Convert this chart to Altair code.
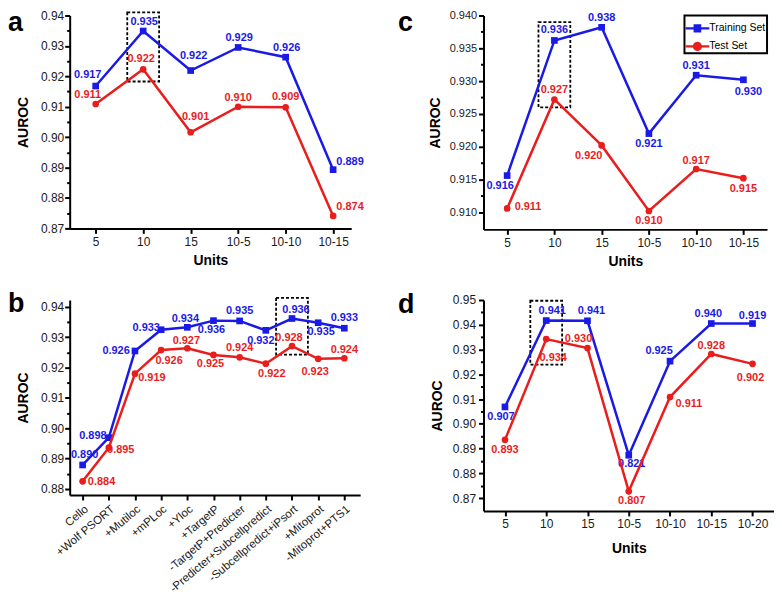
import altair as alt
import pandas as pd

SERIES = ["Training Set", "Test Set"]
BLUE = "#1a1ae6"
RED = "#ea1d1d"

# ---------------- data ----------------
a_units = ["5", "10", "15", "10-5", "10-10", "10-15"]
a_train = [0.9168, 0.9349, 0.9219, 0.9295, 0.9263, 0.8893]
a_test = [0.9109, 0.9223, 0.9016, 0.9100, 0.9098, 0.8741]
a_train_text = ["0.917", "0.935", "0.922", "0.929", "0.926", "0.889"]
a_test_text = ["0.911", "0.922", "0.901", "0.910", "0.909", "0.874"]

b_steps = ["Cello", "+Wolf PSORT", "+Mutiloc", "+mPLoc", "+Yloc", "+TargetP",
           "-TargetP+Predicter", "-Predicter+Subcellpredict",
           "-Subcellpredict+iPsort", "+Mitoprot", "-Mitoprot+PTS1"]
b_train = [0.8879, 0.8969, 0.9255, 0.9325, 0.9333, 0.9355, 0.9354, 0.9323, 0.9362, 0.9348, 0.9330]
b_test = [0.8825, 0.8936, 0.9180, 0.9258, 0.9264, 0.9242, 0.9234, 0.9213, 0.9271, 0.9229, 0.9231]
b_train_text = ["0.890", "0.898", "0.926", "0.933", "0.934", "0.936", "0.935", "0.932", "0.936", "0.935", "0.933"]
b_test_text = ["0.884", "0.895", "0.919", "0.926", "0.927", "0.925", "0.924", "0.922", "0.928", "0.923", "0.924"]

c_units = ["5", "10", "15", "10-5", "10-10", "10-15"]
c_train = [0.9156, 0.9362, 0.9382, 0.9220, 0.9309, 0.9302]
c_test = [0.9106, 0.9272, 0.9202, 0.9102, 0.9166, 0.9152]
c_train_text = ["0.916", "0.936", "0.938", "0.921", "0.931", "0.930"]
c_test_text = ["0.911", "0.927", "0.920", "0.910", "0.917", "0.915"]

d_units = ["5", "10", "15", "10-5", "10-10", "10-15", "10-20"]
d_train = [0.9068, 0.9417, 0.9416, 0.8873, 0.9253, 0.9405, 0.9405]
d_test = [0.8935, 0.9342, 0.9306, 0.8727, 0.9108, 0.9282, 0.9242]
d_train_text = ["0.907", "0.941", "0.941", "0.821", "0.925", "0.940", "0.919"]
d_test_text = ["0.893", "0.934", "0.930", "0.807", "0.911", "0.928", "0.902"]

# highlighted configuration (dashed box): category, lower, upper AUROC
a_box = ("10", 0.9183, 0.9410)
b_box = ("-Subcellpredict+iPsort", 0.9243, 0.9430)
c_box = ("10", 0.9260, 0.9390)
d_box = ("10", 0.9239, 0.9497)

# ---------------- layout (pixel offsets of value labels) ----------------
a_train_off = [(-8, -11), (1, -9), (3, -15), (1, -9), (1, -9), (17, -8)]
a_test_off = [(-8, -9), (-2, -10), (5, -15), (0, -9), (0, -10), (17, -9)]
b_train_off = [(2, -10), (-16, -2), (-19, 0), (-15, -2), (-2, -8), (-2, 9),
               (0, -10), (-5, 11), (4, -9), (3, 9), (0, -10)]
b_test_off = [(19, 1), (12, 2), (17, 4), (8, 11), (-1, -7), (-3, 9),
              (0, -9), (6, 10), (-3, -8), (-3, 13), (0, -8)]
c_train_off = [(-7, 10), (0, -10), (0, -9), (0, 10), (0, -9), (5, 12)]
c_test_off = [(21, -1), (0, -10), (-13, 11), (0, 10), (0, -8), (0, 11)]
d_train_off = [(-4, 10), (6, -10), (4, -10), (3, 9), (-11, -10), (-3, -10), (0, -8)]
d_test_off = [(0, 10), (7, 19), (-9, -9), (3, 10), (19, 7), (0, -8), (-2, 14)]

FONT = "Liberation Sans"

SQ_PATH = "M-1,-0.09H-0.32V-0.34H0.32V-0.09H1V0.09H0.32V0.34H-0.32V0.09H-1Z"
CI_PATH = ("M-1,-0.09H-0.37A0.38,0.38 0 0 1 0.37,-0.09H1V0.09H0.37"
           "A0.38,0.38 0 0 1 -0.37,0.09H-1Z")


def panel(cats, train, test, ttxt, vtxt, toff, voff, box, domain, major, minor, fmt,
          width, height, pad, align, letter, letter_xy, xtitle, label_angle,
          xlabel_size, ylabel_size, ytitle_pad, xtitle_pad, ylabel_pad, legend=False):
    span = domain[1] - domain[0]
    rows = []
    for series, vals, txts, offs in ((SERIES[0], train, ttxt, toff), (SERIES[1], test, vtxt, voff)):
        for i, (c, v, t, (dx, dy)) in enumerate(zip(cats, vals, txts, offs)):
            rows.append(dict(cat=c, idx=i, series=series, value=v, label=t,
                             dx=dx, ly=v - dy * span / height))
    df = pd.DataFrame(rows)
    yscale = alt.Scale(domain=list(domain), zero=False, nice=False)

    xaxis_kw = dict(labelAngle=label_angle, labelFontSize=xlabel_size, tickSize=5,
                    labelPadding=3, grid=False, titleFontSize=14, titleFontWeight="bold",
                    titlePadding=xtitle_pad)
    xaxis_kw["title"] = xtitle if xtitle else None
    xenc = alt.X("cat:N", sort=cats,
                 scale=alt.Scale(type="point", padding=pad, align=align),
                 axis=alt.Axis(**xaxis_kw))

    major_axis = alt.Axis(values=major, format=fmt, title="AUROC", titleFontSize=14,
                          titleFontWeight="bold", labelFontSize=ylabel_size, tickSize=5,
                          labelPadding=ylabel_pad, titlePadding=ytitle_pad, grid=False,
                          orient="left")
    minor_axis = alt.Axis(values=minor, labels=False, domain=False, tickSize=3,
                          title=None, grid=False, orient="left")

    boxdf = pd.DataFrame({"cat": [box[0]], "lo": [box[1]], "hi": [box[2]]})
    layers = [
        alt.Chart(boxdf).mark_bar(width=32, fillOpacity=0, stroke="black",
                                  strokeWidth=1.8, strokeDash=[3, 2]).encode(
            x=xenc, y=alt.Y("lo:Q", scale=yscale, axis=None), y2="hi:Q")
    ]
    for series, color, shape, ax in ((SERIES[0], BLUE, "square", major_axis),
                                     (SERIES[1], RED, "circle", minor_axis)):
        base = alt.Chart(df).transform_filter(alt.datum.series == series)
        layers.append(base.mark_line(color=color, strokeWidth=2.5).encode(
            x=xenc, y=alt.Y("value:Q", scale=yscale, axis=ax), order="idx:Q"))
        layers.append(base.mark_point(shape=shape, filled=True, size=45, color=color,
                                      opacity=1).encode(
            x=xenc, y=alt.Y("value:Q", scale=yscale, axis=None)))
        layers.append(base.mark_text(fontSize=11, fontWeight="bold", color=color,
                                     font=FONT).encode(
            x=xenc, xOffset=alt.XOffset("dx:Q", scale=None),
            y=alt.Y("ly:Q", scale=yscale, axis=None), text="label:N"))

    layers.append(alt.Chart(pd.DataFrame({"t": [letter]})).mark_text(
        align="left", baseline="alphabetic", fontSize=27, fontWeight="bold",
        font=FONT, color="black").encode(
        x=alt.value(letter_xy[0]), y=alt.value(letter_xy[1]), text="t:N"))

    if legend:
        leg = alt.Legend(orient="top-right", offset=0, padding=1, strokeColor="black",
                         labelFontSize=10.5, symbolSize=576, rowPadding=-40, labelOffset=0,
                         title=None, symbolStrokeWidth=0, cornerRadius=0,
                         fillColor="white", labelFont=FONT, labelColor="black")
        layers.append(alt.Chart(pd.DataFrame({"series": SERIES})).transform_filter(
            "false").mark_point(filled=True, opacity=1).encode(
            color=alt.Color("series:N", scale=alt.Scale(domain=SERIES, range=[BLUE, RED]),
                            legend=leg),
            shape=alt.Shape("series:N", scale=alt.Scale(domain=SERIES,
                                                        range=[SQ_PATH, CI_PATH]),
                            legend=leg)))

    return alt.layer(*layers).properties(width=width, height=height).resolve_axis(
        y="independent")


pa = panel(a_units, a_train, a_test, a_train_text, a_test_text, a_train_off, a_test_off,
           a_box, (0.87, 0.94), [0.87, 0.88, 0.89, 0.90, 0.91, 0.92, 0.93, 0.94],
           [0.875, 0.885, 0.895, 0.905, 0.915, 0.925, 0.935], ".2f",
           283, 214, 0.464, 0.59, "a", (-62, 16), "Units", 0, 12, 12, 10, 6, 1)
pb = panel(b_steps, b_train, b_test, b_train_text, b_test_text, b_train_off, b_test_off,
           b_box, (0.878, 0.9423), [0.88, 0.89, 0.90, 0.91, 0.92, 0.93, 0.94],
           [0.885, 0.895, 0.905, 0.915, 0.925, 0.935], ".2f",
           292, 196, 0.55, 0.45, "b", (-62, 12), None, 320, 11.5, 12, 10, 6, 1)
pc = panel(c_units, c_train, c_test, c_train_text, c_test_text, c_train_off, c_test_off,
           c_box, (0.9074, 0.940), [0.910, 0.915, 0.920, 0.925, 0.930, 0.935, 0.940],
           [0.9125, 0.9175, 0.9225, 0.9275, 0.9325, 0.9375], ".3f",
           285, 215, 0.5, 0.5, "c", (-86, 16), "Units", 0, 12, 11, 7, 6, 2, legend=True)
pd_ = panel(d_units, d_train, d_test, d_train_text, d_test_text, d_train_off, d_test_off,
            d_box, (0.8648, 0.95), [0.87, 0.88, 0.89, 0.90, 0.91, 0.92, 0.93, 0.94, 0.95],
            [0.875, 0.885, 0.895, 0.905, 0.915, 0.925, 0.935, 0.945], ".2f",
            292, 212, 0.52, 0.5, "d", (-86, 13), "Units", 0, 12, 12, 8, 12, 3)

chart = alt.concat(pa, pc, pb, pd_, columns=2, spacing={"row": 71, "column": 124},
                   bounds="flush").resolve_scale(
    color="independent", shape="independent"
).resolve_legend(
    color="independent", shape="independent"
).properties(
    padding=0
).configure_view(stroke=None).configure_axis(
    domainColor="black", domainWidth=2, tickColor="black", tickWidth=2,
    labelColor="#1a1a1a", labelFont=FONT, titleFont=FONT, titleColor="black"
).configure_legend(strokeWidth=2)

chart.save("out.html", embed_options={"renderer": "svg", "actions": False})
